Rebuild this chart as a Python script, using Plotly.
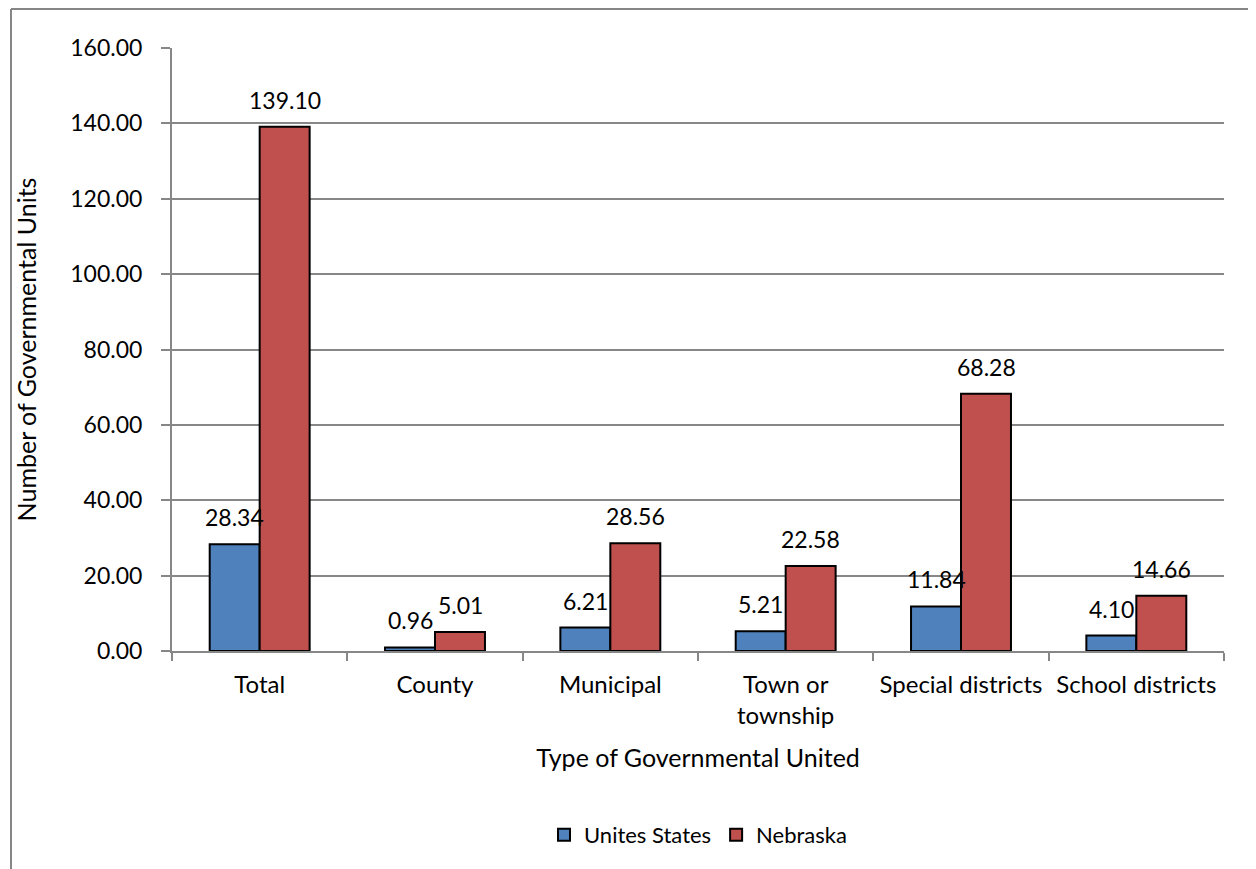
import plotly.graph_objects as go

categories = ["Total", "County", "Municipal", "Town or township", "Special districts", "School districts"]
tick_labels = ["Total", "County", "Municipal", "Town or<br>township", "Special districts", "School districts"]
us_values = [28.34, 0.96, 6.21, 5.21, 11.84, 4.10]
ne_values = [139.10, 5.01, 28.56, 22.58, 68.28, 14.66]
y_ticks = [0, 20, 40, 60, 80, 100, 120, 140, 160]

FONT = "Lato, 'Open Sans', sans-serif"
BLUE = "#4F81BD"
RED = "#C0504D"
GRID = "#878787"

fig = go.Figure()
fig.add_trace(go.Bar(name="Unites States", x=categories, y=us_values,
                     marker=dict(color=BLUE, line=dict(color="black", width=2))))
fig.add_trace(go.Bar(name="Nebraska", x=categories, y=ne_values,
                     marker=dict(color=RED, line=dict(color="black", width=2))))

for vals, shift in ((us_values, -25), (ne_values, 25)):
    for c, v in zip(categories, vals):
        fig.add_annotation(x=c, y=v, text=f"{v:.2f}", showarrow=False,
                           xshift=shift, yanchor="middle", yshift=27,
                           font=dict(family=FONT, size=23, color="black"))

# figure is placed at (8, 8) in the page by the default body margin
FW, FH = 1248, 861
L, R, T, B = 164, 32, 40, 218
W, H = FW - L - R, FH - T - B


def px(x):
    return (x - L) / W


def py(y):
    return (FH - B - y) / H


fig.add_shape(type="line", xref="paper", yref="paper", x0=px(3), x1=px(3), y0=py(1), y1=py(900),
              line=dict(color="#868686", width=2))
fig.add_shape(type="line", xref="paper", yref="paper", x0=px(3), x1=px(1300), y0=py(1), y1=py(1),
              line=dict(color="#868686", width=2))

fig.update_layout(
    width=FW, height=FH,
    margin=dict(l=L, r=R, t=T, b=B),
    paper_bgcolor="white", plot_bgcolor="white",
    barmode="group", bargap=0.43, bargroupgap=0,
    font=dict(family=FONT, size=23, color="black"),
    showlegend=True,
    legend=dict(orientation="h", x=0.5, xanchor="center", y=py(827), yanchor="middle",
                font=dict(family=FONT, size=22), itemsizing="constant"),
    xaxis=dict(
        type="category", tickmode="array", tickvals=categories, ticktext=tick_labels,
        tickson="boundaries", ticks="outside", ticklen=8, tickcolor=GRID, tickwidth=2,
        showline=True, linecolor=GRID, linewidth=2, showgrid=False,
        ticklabelstandoff=11, tickfont=dict(family=FONT, size=24),
        title=dict(text="Type of Governmental United", font=dict(family=FONT, size=25), standoff=21),
    ),
    yaxis=dict(
        range=[0, 160], tickvals=y_ticks, tickformat=".2f",
        ticks="outside", ticklen=9, tickcolor=GRID, tickwidth=2,
        showline=True, linecolor=GRID, linewidth=2,
        showgrid=True, gridcolor=GRID, gridwidth=1.5, zeroline=False,
        ticklabelstandoff=14, tickfont=dict(family=FONT, size=23),
        title=dict(text="Number of Governmental Units", font=dict(family=FONT, size=25), standoff=27),
    ),
)

fig.write_html("out.html")
